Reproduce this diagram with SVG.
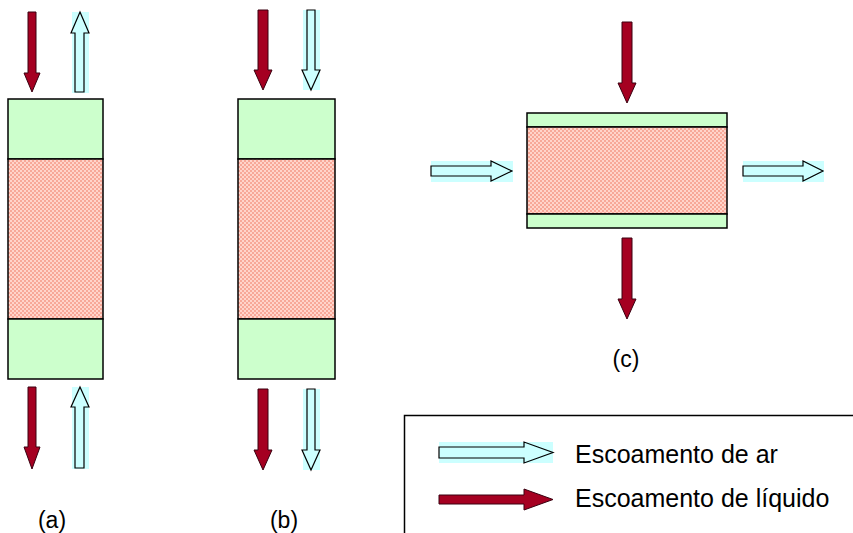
<svg xmlns="http://www.w3.org/2000/svg" width="853" height="533" viewBox="0 0 853 533">
<style>
.green{fill:#CCFFCC;stroke:#000;stroke-width:1.5}
.pink{fill:url(#chk);stroke:#000;stroke-width:1.5}
.liq{fill:#A50021;stroke:#3A0010;stroke-width:1}
.air{fill:#CCFFFF;stroke:#000;stroke-width:1.2}
.airbg{fill:#CCFFFF}
.lbl{font-family:"Liberation Sans",Arial,sans-serif;font-size:23px;fill:#000}
.leg{font-family:"Liberation Sans",Arial,sans-serif;font-size:25px;fill:#000}
</style>
<defs>
<pattern id="chk" width="4" height="4" patternUnits="userSpaceOnUse">
<rect width="4" height="4" fill="#FFD4CA"/>
<rect width="2" height="2" fill="#F7A898"/>
<rect x="2" y="2" width="2" height="2" fill="#F7A898"/>
</pattern>
</defs>
<rect width="853" height="533" fill="#fff"/>
<g id="column-a">
<rect class="green" x="8" y="99" width="95" height="60"/>
<rect class="pink" x="8" y="159" width="95" height="160"/>
<rect class="green" x="8" y="319" width="95" height="60"/>
</g>
<g id="column-b">
<rect class="green" x="238" y="99" width="97" height="60"/>
<rect class="pink" x="238" y="159" width="97" height="160"/>
<rect class="green" x="238" y="319" width="97" height="60"/>
</g>
<g id="column-c">
<rect class="green" x="527" y="113" width="200" height="14"/>
<rect class="pink" x="527" y="127" width="200" height="87"/>
<rect class="green" x="527" y="214" width="200" height="14"/>
</g>
<g id="connectors">
<polygon class="liq" points="28,12 36,12 36,73 40,73 32,92 24,73 28,73"/>
<rect class="airbg" x="72" y="12" width="17" height="81"/>
<polygon class="air" points="80,12 89,33 84,33 84,92 75,92 75,33 71,33"/>
<polygon class="liq" points="28,387 36,387 36,447 40,447 32,469 24,447 28,447"/>
<rect class="airbg" x="72" y="387" width="17" height="82"/>
<polygon class="air" points="80,387 89,407 84,407 84,468 75,468 75,407 71,407"/>
<polygon class="liq" points="258,10 268,10 268,70 272,70 263,90 254,70 258,70"/>
<rect class="airbg" x="303" y="10" width="17" height="80"/>
<polygon class="air" points="307,10 315,10 315,70 320,70 311,90 302,70 307,70"/>
<polygon class="liq" points="258,389 268,389 268,450 272,450 263,470 254,450 258,450"/>
<rect class="airbg" x="303" y="389" width="17" height="81"/>
<polygon class="air" points="307,389 315,389 315,450 320,450 311,470 302,450 307,450"/>
<polygon class="liq" points="622,22 632,22 632,83 636,83 627,103 618,83 622,83"/>
<polygon class="liq" points="622,238 632,238 632,299 636,299 627,319 618,299 622,299"/>
<rect class="airbg" x="431" y="161" width="82" height="21"/>
<polygon class="air" points="431,166 491,166 491,161 512,171 491,181 491,176 431,176"/>
<rect class="airbg" x="743" y="161" width="81" height="21"/>
<polygon class="air" points="743,166 803,166 803,161 823,171 803,181 803,176 743,176"/>
</g>
<g id="labels">
<text class="lbl" x="52" y="528" text-anchor="middle">(a)</text>
<text class="lbl" x="284" y="528" text-anchor="middle">(b)</text>
<text class="lbl" x="626" y="367" text-anchor="middle">(c)</text>
</g>
<g id="legend">
<rect x="404.5" y="415.5" width="460" height="130" fill="none" stroke="#000" stroke-width="1.5"/>
<rect class="airbg" x="439" y="442" width="114" height="21"/>
<polygon class="air" points="439,447 524,447 524,442 553,452.5 524,463 524,458 439,458"/>
<polygon class="liq" points="439,495 524,495 524,489 553,499.5 524,510 524,504 439,504"/>
<text class="leg" x="575" y="463">Escoamento de ar</text>
<text class="leg" x="575" y="507">Escoamento de líquido</text>
</g>
</svg>
